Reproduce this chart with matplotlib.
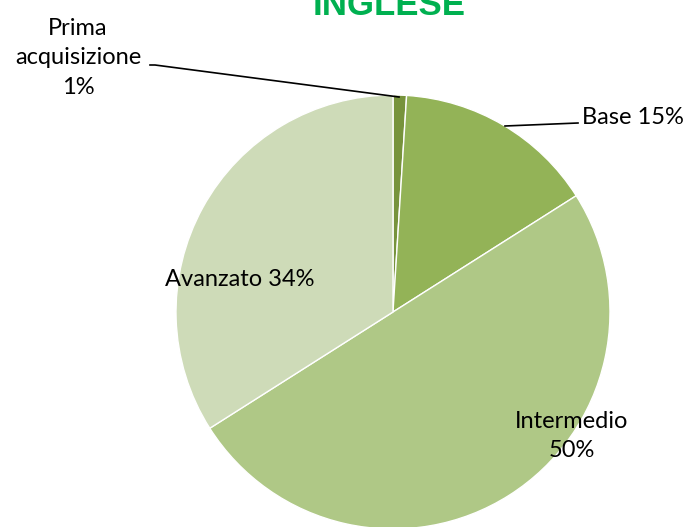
import matplotlib
matplotlib.use("Agg")
import matplotlib.pyplot as plt

categories = ["Prima\nacquisizione", "Base", "Intermedio", "Avanzato"]
values = [1, 15, 50, 34]
label_texts = ["Prima\nacquisizione\n1%", "Base 15%", "Intermedio\n50%", "Avanzato 34%"]
colors = ["#77933C", "#93B357", "#AFC886", "#CEDBB8"]

fig = plt.figure(figsize=(6.9, 5.27), dpi=100)
ax = fig.add_axes([0, 0, 1, 1])

cx, cy, r = 393, -312, 217
ax.pie(values, colors=colors, startangle=90, counterclock=False,
       center=(cx, cy), radius=r, frame=True,
       wedgeprops=dict(edgecolor="white", linewidth=1.0))
ax.set_xlim(0, 690)
ax.set_ylim(-527, 0)
ax.set_aspect("equal")
ax.axis("off")

font = "Lato"
fs = 17
# Prima acquisizione label with leader
ax.text(78, -58, label_texts[0], ha="center", va="center", fontsize=fs,
        family=font, linespacing=1.5)
ax.plot([150, 155, 399], [-65, -65, -97], color="black", lw=1.2)
# Base
ax.text(582, -117, label_texts[1], ha="left", va="center", fontsize=fs, family=font)
ax.plot([505, 578], [-126, -123], color="black", lw=1.2)
# Intermedio
ax.text(572, -436, label_texts[2], ha="center", va="center", fontsize=fs,
        family=font, linespacing=1.5)
# Avanzato
ax.text(240, -280, label_texts[3], ha="center", va="center", fontsize=fs, family=font)

ax.text(389, -15, "INGLESE", ha="center", va="baseline", fontsize=25,
        fontweight="bold", color="#00B050", family="Liberation Sans")

fig.savefig("out.png", dpi=100)
